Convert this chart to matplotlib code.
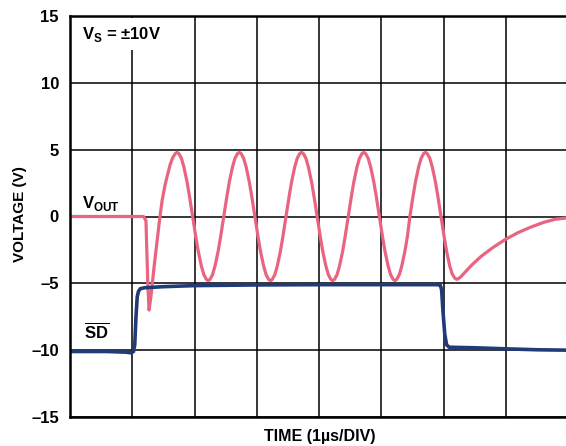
import matplotlib
matplotlib.use('Agg')
import matplotlib.pyplot as plt

plt.rcParams['font.family'] = ['Liberation Sans', 'DejaVu Sans']
plt.rcParams['font.weight'] = 'bold'
plt.rcParams['mathtext.fontset'] = 'custom'
plt.rcParams['mathtext.rm'] = 'Liberation Sans:bold'
plt.rcParams['mathtext.bf'] = 'Liberation Sans:bold'

# time in us (1 us per division), voltage in V
vout_t = [0.0, 1.18, 1.22, 1.25, 1.27, 1.30, 1.35, 1.40, 1.44, 1.48,
          1.52, 1.56, 1.61, 1.65, 1.69, 1.72, 1.75, 1.79, 1.83, 1.88, 1.92, 1.97,
          2.02, 2.06, 2.11, 2.15, 2.19, 2.22, 2.25, 2.29, 2.33, 2.38, 2.42, 2.47,
          2.52, 2.56, 2.61, 2.65, 2.69, 2.72, 2.75, 2.79, 2.83, 2.88, 2.92, 2.97,
          3.02, 3.06, 3.11, 3.15, 3.19, 3.22, 3.25, 3.29, 3.33, 3.38, 3.42, 3.47,
          3.52, 3.56, 3.61, 3.65, 3.69, 3.72, 3.75, 3.79, 3.83, 3.88, 3.92, 3.97,
          4.02, 4.06, 4.11, 4.15, 4.19, 4.22, 4.25, 4.29, 4.33, 4.38, 4.42, 4.47,
          4.52, 4.56, 4.61, 4.65, 4.69, 4.72, 4.75, 4.79, 4.83, 4.88, 4.92, 4.97,
          5.02, 5.06, 5.11, 5.15, 5.19, 5.22, 5.25, 5.29, 5.33, 5.38, 5.42, 5.46,
          5.51, 5.55, 5.60, 5.64, 5.68, 5.71, 5.74, 5.78, 5.82, 5.87, 5.91, 5.96,
          6.01, 6.05, 6.10, 6.14, 6.18, 6.21, 6.24, 6.28, 6.35, 6.45, 6.60, 6.80,
          7.00, 7.20, 7.40, 7.60, 7.80, 8.0]
vout_v = [0.0, 0.0, -0.3, -5.0, -7.0, -6.0, -3.8, -1.8, -0.2, 1.2,
          2.2, 3.0, 3.9, 4.4, 4.7, 4.8, 4.7, 4.35, 3.7, 2.6, 1.5, 0.0,
          -1.5, -2.6, -3.7, -4.35, -4.7, -4.8, -4.7, -4.35, -3.7, -2.6, -1.5, 0.0,
          1.5, 2.6, 3.7, 4.35, 4.7, 4.8, 4.7, 4.35, 3.7, 2.6, 1.5, 0.0,
          -1.5, -2.6, -3.7, -4.35, -4.7, -4.8, -4.7, -4.35, -3.7, -2.6, -1.5, 0.0,
          1.5, 2.6, 3.7, 4.35, 4.7, 4.8, 4.7, 4.35, 3.7, 2.6, 1.5, 0.0,
          -1.5, -2.6, -3.7, -4.35, -4.7, -4.8, -4.7, -4.35, -3.7, -2.6, -1.5, 0.0,
          1.5, 2.6, 3.7, 4.35, 4.7, 4.8, 4.7, 4.35, 3.7, 2.6, 1.5, 0.0,
          -1.5, -2.6, -3.7, -4.35, -4.7, -4.8, -4.7, -4.35, -3.7, -2.6, -1.5, 0.0,
          1.5, 2.6, 3.7, 4.35, 4.7, 4.8, 4.7, 4.35, 3.7, 2.6, 1.5, 0.0,
          -1.5, -2.6, -3.7, -4.3, -4.6, -4.7, -4.65, -4.5, -4.15, -3.65, -3.0, -2.3,
          -1.7, -1.2, -0.8, -0.45, -0.2, -0.1]

sd_t = [0.0, 0.6, 0.9, 0.98, 1.02, 1.04, 1.06, 1.08, 1.10, 1.13, 1.2, 1.5, 2.0, 3.0, 4.0, 5.0, 5.9,
        5.95, 5.97, 5.99, 6.02, 6.05, 6.09, 6.5, 7.0, 7.5, 8.0]
sd_v = [-10.1, -10.1, -10.15, -10.2, -10.1, -9.6, -7.5, -6.0, -5.6, -5.4, -5.33, -5.25, -5.17, -5.12, -5.1, -5.1, -5.1,
        -5.15, -5.5, -7.0, -8.8, -9.6, -9.78, -9.82, -9.9, -9.97, -10.0]

yticks = [15, 10, 5, 0, -5, -10, -15]
ytick_labels = ['15', '10', '5', '0', '\u20135', '\u201310', '\u201315']

fig = plt.figure(figsize=(5.66, 4.46), dpi=100)
ax = fig.add_axes([70 / 566, 29 / 446, 498 / 566, 401 / 446])

ax.plot(vout_t, vout_v, color='#e9657f', lw=2.3, zorder=3, solid_joinstyle='round')
ax.plot(sd_t, sd_v, color='#213a78', lw=2.6, zorder=4, solid_joinstyle='round')

ax.set_xlim(0, 8)
ax.set_ylim(-15, 15)
ax.set_xticks(range(0, 9))
ax.set_xticklabels([])
ax.set_yticks(yticks)
ax.set_yticklabels(ytick_labels, fontsize=12, fontweight='bold')
ax.tick_params(length=0, pad=8)
ax.grid(True, color='black', lw=1.1, zorder=1)
ax.set_axisbelow(True)
for s in ax.spines.values():
    s.set_linewidth(1.8)
    s.set_zorder(5)
ax.spines['right'].set_visible(False)

fig.text(20 / 566, 1 - 214 / 446, 'VOLTAGE (V)', fontsize=11, fontweight='bold',
         rotation=90, ha='center', va='center')
fig.text(320 / 566, 1 - 437 / 446, 'TIME (1\u00b5s/DIV)', fontsize=11.5, fontweight='bold',
         ha='center', va='center')

ax.text(0.2, 13.65, 'V$_\\mathrm{S}$ = \u00b110V', fontsize=12, fontweight='bold',
        va='center', ha='left', zorder=6,
        bbox=dict(facecolor='white', edgecolor='none', pad=4.5))
ax.text(0.2, 1.0, r'V$_\mathrm{OUT}$', fontsize=12, fontweight='bold', va='center', ha='left', zorder=6)
ax.text(0.22, -8.6, r'$\overline{\mathrm{SD}}$', fontsize=12, fontweight='bold', va='center', ha='left', zorder=6)

fig.savefig('out.png', dpi=100)
